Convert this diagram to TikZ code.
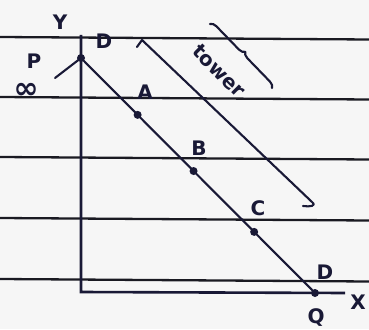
\documentclass[tikz,border=0pt]{standalone}
\usepackage{fontspec}
\setmainfont{DejaVu Sans}
\usetikzlibrary{decorations.pathreplacing,calc}
\definecolor{ink}{HTML}{191936}
\definecolor{rulecol}{HTML}{1A1A22}
\definecolor{paper}{HTML}{F6F6F6}
\begin{document}
\begin{tikzpicture}[x=1pt,y=-1pt,
  ruleline/.style={draw=rulecol,line width=2.3pt},
  axisline/.style={draw=ink,line width=2.6pt},
  inkline/.style={draw=ink,line width=2.1pt,line cap=round,line join=round},
  dotmark/.style={circle,fill=ink,inner sep=0pt,minimum size=8pt},
  lbl/.style={text=ink,font=\bfseries\fontsize{20}{20}\selectfont,inner sep=0pt}]
\fill[paper] (0,0) rectangle (369,329);
\useasboundingbox (0,0) rectangle (369,329);
% ruled paper lines
\foreach \yy in {37,97,157,218,279} \draw[ruleline] (0,\yy) -- (369,\yy+2.5);
% axes
\coordinate (Ytop) at (81,35);
\coordinate (O) at (81,292);
\coordinate (Xend) at (345,293);
\draw[axisline] (Ytop) -- (O) -- (Xend);
% main line
\node[dotmark] (P) at (81,58) {};
\node[dotmark] (Q) at (315,293) {};
\coordinate (Pl) at (55,78);
\draw[inkline] (Pl) -- (P.center) -- (Q.center);
\node[dotmark] (A) at ($(P.center)!0.242!(Q.center)$) {};
\node[dotmark] (B) at ($(P.center)!0.481!(Q.center)$) {};
\node[dotmark] (C) at ($(P.center)!0.74!(Q.center)$) {};
% tower line
\coordinate (Tcap) at (137,47);
\coordinate (T1) at (142,40);
\coordinate (T2) at (312,202);
\coordinate (Thook) at (303,206);
\draw[inkline] (Tcap) -- (T1) -- (T2) .. controls (317,206) and (310,207) .. (Thook);
% brace
\coordinate (Bra) at (210,24);
\coordinate (Brb) at (272,88);
\draw[inkline,decorate,decoration={brace,amplitude=6pt}] (Bra) -- (Brb);
\node[lbl,rotate=-45] (tower) at (219,71) {tower};
% labels
\node[lbl] (lY) at (60,22) {Y};
\node[lbl] (lD1) at (104,41) {D};
\node[lbl] (lP) at (34,61) {P};
\node[lbl,font=\bfseries\fontsize{30}{30}\selectfont] (lal) at (26,91) {∞};
\node[lbl] (lA) at (145,92) {A};
\node[lbl] (lB) at (199,148) {B};
\node[lbl] (lC) at (258,208) {C};
\node[lbl] (lD2) at (325,272) {D};
\node[lbl] (lQ) at (316,318) {Q};
\node[lbl] (lX) at (358,302) {X};
\end{tikzpicture}
\end{document}
